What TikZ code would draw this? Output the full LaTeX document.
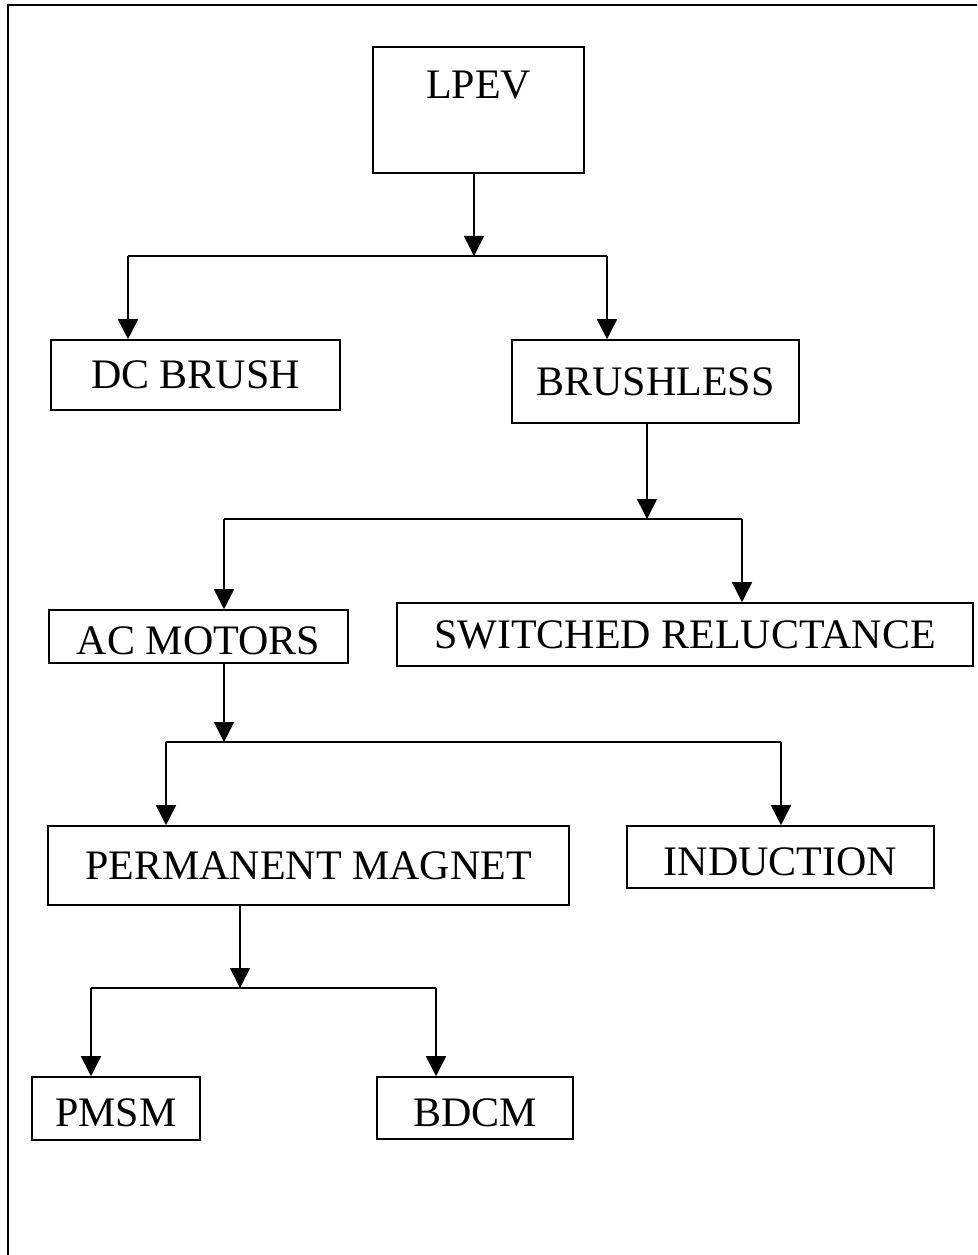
\documentclass[tikz,border=0pt]{standalone}
\usepackage{fontspec}
\setmainfont{Liberation Serif}
\usetikzlibrary{arrows.meta, positioning}

\begin{document}
\begin{tikzpicture}[x=0.75pt, y=-0.75pt,
        box/.style={rectangle, draw=black, line width=1.2pt, fill=white, inner sep=0pt, align=center, font=\fontsize{31.5}{37.8}\selectfont},
        lowtext/.style={text height=27pt, text depth=0pt},
        link/.style={line width=1.2pt, black},
        arrow/.style={-{Triangle[length=15pt, width=15pt]}, line width=1.2pt, black}
    ]
        \useasboundingbox (0,0) rectangle (977,1255);

        % Frame
        \draw[line width=2pt] (977,5) -- (8,5) -- (8,1255);

        % Motors
        \node[box, minimum width=158.25pt, minimum height=94.5pt] (lpev) at (478.5,110) {LPEV\\\mbox{}};
        \node[box, minimum width=216.75pt, minimum height=52.5pt] (dcbrush) at (195.5,375) {DC BRUSH};
        \node[box, minimum width=215.25pt, minimum height=62.25pt] (brushless) at (655.5,381.5) {BRUSHLESS};
        \node[box, lowtext, minimum width=224.25pt, minimum height=39.75pt] (acmotors) at (198.5,636.5) {AC MOTORS};
        \node[box, minimum width=432pt, minimum height=47.25pt] (srm) at (685,634.5) {SWITCHED RELUCTANCE};
        \node[box, minimum width=390.75pt, minimum height=59.25pt] (pm) at (308.5,865.5) {PERMANENT MAGNET};
        \node[box, lowtext, minimum width=230.25pt, minimum height=46.5pt] (induction) at (780.5,857) {INDUCTION};
        \node[box, lowtext, minimum width=126pt, minimum height=47.25pt] (pmsm) at (116,1108.5) {PMSM};
        \node[box, lowtext, minimum width=147pt, minimum height=46.5pt] (bdcm) at (475,1108) {BDCM};

        % Junctions
        \coordinate (j1) at (474,256);
        \coordinate (j1l) at (128,256);
        \coordinate (j1r) at (607,256);
        \coordinate (j2) at (647,519);
        \coordinate (j2l) at (224,519);
        \coordinate (j2r) at (742,519);
        \coordinate (j3) at (224,742);
        \coordinate (j3l) at (166,742);
        \coordinate (j3r) at (781,742);
        \coordinate (j4) at (240,988);
        \coordinate (j4l) at (91,988);
        \coordinate (j4r) at (436,988);

        % LPEV
        \draw[arrow] (j1 |- lpev.south) -- (j1);
        \draw[link] (j1l) -- (j1r);
        \draw[arrow] (j1l) -- (j1l |- dcbrush.north);
        \draw[arrow] (j1r) -- (j1r |- brushless.north);

        % Brushless
        \draw[arrow] (j2 |- brushless.south) -- (j2);
        \draw[link] (j2l) -- (j2r);
        \draw[arrow] (j2l) -- (j2l |- acmotors.north);
        \draw[arrow] (j2r) -- (j2r |- srm.north);

        % AC motors
        \draw[arrow] (j3 |- acmotors.south) -- (j3);
        \draw[link] (j3l) -- (j3r);
        \draw[arrow] (j3l) -- (j3l |- pm.north);
        \draw[arrow] (j3r) -- (j3r |- induction.north);

        % Permanent magnet
        \draw[arrow] (j4 |- pm.south) -- (j4);
        \draw[link] (j4l) -- (j4r);
        \draw[arrow] (j4l) -- (j4l |- pmsm.north);
        \draw[arrow] (j4r) -- (j4r |- bdcm.north);

    \end{tikzpicture}
\end{document}
